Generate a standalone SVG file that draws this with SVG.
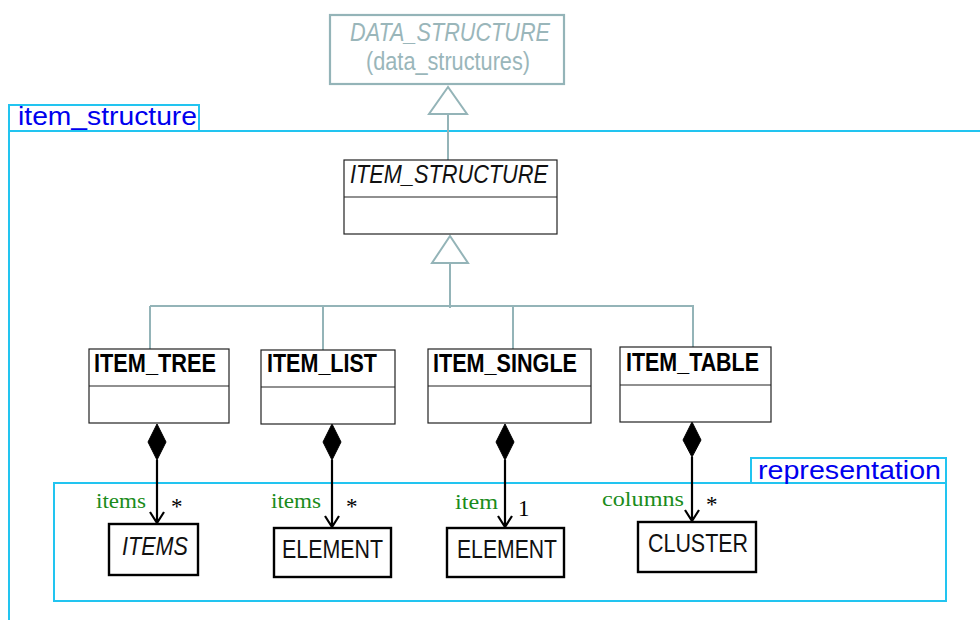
<svg xmlns="http://www.w3.org/2000/svg" width="980" height="620" viewBox="0 0 980 620">
<defs>
<style>
.bg{fill:#ffffff}
.cl{fill:none;stroke:#22c4f0;stroke-width:2}
.lbl{font-family:"Liberation Sans",Arial,sans-serif;font-size:26px;fill:#0000ee}
.gen{fill:none;stroke:#94b4b8;stroke-width:2}
.tri{fill:#ffffff;stroke:#94b4b8;stroke-width:2}
.cls{fill:#ffffff;stroke:#222222;stroke-width:1.2}
.box{fill:#ffffff;stroke:#000000;stroke-width:2.4}
.ghost{fill:#ffffff;stroke:#94b4b8;stroke-width:2.2}
.cn{font-family:"Liberation Sans",Arial,sans-serif;font-size:25px;font-weight:bold;fill:#000000}
.ct{font-family:"Liberation Sans",Arial,sans-serif;font-size:25px;fill:#111111}
.it{font-style:italic}
.gt{font-family:"Liberation Sans",Arial,sans-serif;font-size:25px;fill:#9ab6ba}
.role{font-family:"Liberation Serif","Times New Roman",serif;font-size:22px;fill:#1a8c1a}
.mult{font-family:"Liberation Serif","Times New Roman",serif;font-size:23px;fill:#000000}
.agg{fill:none;stroke:#000000;stroke-width:2.2}
.dia{fill:#000000;stroke:#000000;stroke-width:1}
</style>
</defs>
<rect class="bg" x="0" y="0" width="980" height="620"/>

<g id="cluster-item_structure">
<path class="cl" d="M9,131 H980 M9,105 V620"/>
<rect class="cl" x="9" y="105" width="190" height="26"/>
<text class="lbl" x="18" y="125" textLength="179" lengthAdjust="spacingAndGlyphs">item_structure</text>
</g>

<g id="cluster-representation">
<rect class="cl" x="54" y="483" width="892" height="118"/>
<rect class="cl" x="751" y="458" width="195" height="25"/>
<text class="lbl" x="758" y="479" textLength="183" lengthAdjust="spacingAndGlyphs">representation</text>
</g>

<g id="connectors">
<path class="gen" d="M448,114 V160"/>
<path class="tri" d="M448,87 L429,114 L467,114 Z"/>
<path class="gen" d="M450,263 V308 M150,306 H694 M150,306 V349 M323,306 V350 M513,306 V349 M693,306 V347"/>
<path class="tri" d="M450,236 L432,263 L468,263 Z"/>

<path class="agg" d="M157,460 V523 M150,512 L157,523 L164,512"/>
<path class="dia" d="M157,424 L166,442 L157,460 L148,442 Z"/>
<path class="agg" d="M332,460 V527 M325,516 L332,527 L339,516"/>
<path class="dia" d="M332,424 L341,442 L332,460 L323,442 Z"/>
<path class="agg" d="M505,460 V527 M498,516 L505,527 L512,516"/>
<path class="dia" d="M505,424 L514,442 L505,460 L496,442 Z"/>
<path class="agg" d="M692,457 V521 M685,510 L692,521 L699,510"/>
<path class="dia" d="M692,422 L701,440 L692,457 L683,440 Z"/>

<text class="role" x="96" y="508" textLength="50" lengthAdjust="spacingAndGlyphs">items</text>
<text class="mult" x="171" y="514">*</text>
<text class="role" x="271" y="508" textLength="50" lengthAdjust="spacingAndGlyphs">items</text>
<text class="mult" x="346" y="514">*</text>
<text class="role" x="455" y="509" textLength="43" lengthAdjust="spacingAndGlyphs">item</text>
<text class="mult" x="518" y="516">1</text>
<text class="role" x="602" y="506" textLength="82" lengthAdjust="spacingAndGlyphs">columns</text>
<text class="mult" x="706" y="512">*</text>
</g>

<g id="node-DATA_STRUCTURE">
<rect class="ghost" x="330" y="15" width="234" height="69"/>
<text class="gt it" x="350" y="41" textLength="200" lengthAdjust="spacingAndGlyphs">DATA_STRUCTURE</text>
<text class="gt" x="366" y="70" textLength="164" lengthAdjust="spacingAndGlyphs">(data_structures)</text>
</g>

<g id="node-ITEM_STRUCTURE">
<rect class="cls" x="344" y="160" width="213" height="74"/>
<path class="cls" d="M344,197 H557"/>
<text class="ct it" x="350" y="183" textLength="198" lengthAdjust="spacingAndGlyphs">ITEM_STRUCTURE</text>
</g>

<g id="node-ITEM_TREE">
<rect class="cls" x="89" y="349" width="140" height="74"/>
<path class="cls" d="M89,386 H229"/>
<text class="cn" x="94" y="372" textLength="122" lengthAdjust="spacingAndGlyphs">ITEM_TREE</text>
</g>

<g id="node-ITEM_LIST">
<rect class="cls" x="261" y="350" width="134" height="74"/>
<path class="cls" d="M261,387 H395"/>
<text class="cn" x="267" y="372" textLength="110" lengthAdjust="spacingAndGlyphs">ITEM_LIST</text>
</g>

<g id="node-ITEM_SINGLE">
<rect class="cls" x="428" y="349" width="163" height="74"/>
<path class="cls" d="M428,386 H591"/>
<text class="cn" x="433" y="372" textLength="144" lengthAdjust="spacingAndGlyphs">ITEM_SINGLE</text>
</g>

<g id="node-ITEM_TABLE">
<rect class="cls" x="620" y="347" width="151" height="75"/>
<path class="cls" d="M620,385 H771"/>
<text class="cn" x="626" y="371" textLength="133" lengthAdjust="spacingAndGlyphs">ITEM_TABLE</text>
</g>

<g id="node-ITEMS">
<rect class="box" x="109" y="524" width="89" height="51"/>
<text class="ct it" x="122" y="555" textLength="66" lengthAdjust="spacingAndGlyphs">ITEMS</text>
</g>

<g id="node-ELEMENT-1">
<rect class="box" x="274" y="528" width="117" height="49"/>
<text class="ct" x="282" y="558" textLength="101" lengthAdjust="spacingAndGlyphs">ELEMENT</text>
</g>

<g id="node-ELEMENT-2">
<rect class="box" x="447" y="528" width="117" height="49"/>
<text class="ct" x="457" y="558" textLength="100" lengthAdjust="spacingAndGlyphs">ELEMENT</text>
</g>

<g id="node-CLUSTER">
<rect class="box" x="638" y="522" width="118" height="50"/>
<text class="ct" x="648" y="552" textLength="100" lengthAdjust="spacingAndGlyphs">CLUSTER</text>
</g>
</svg>
